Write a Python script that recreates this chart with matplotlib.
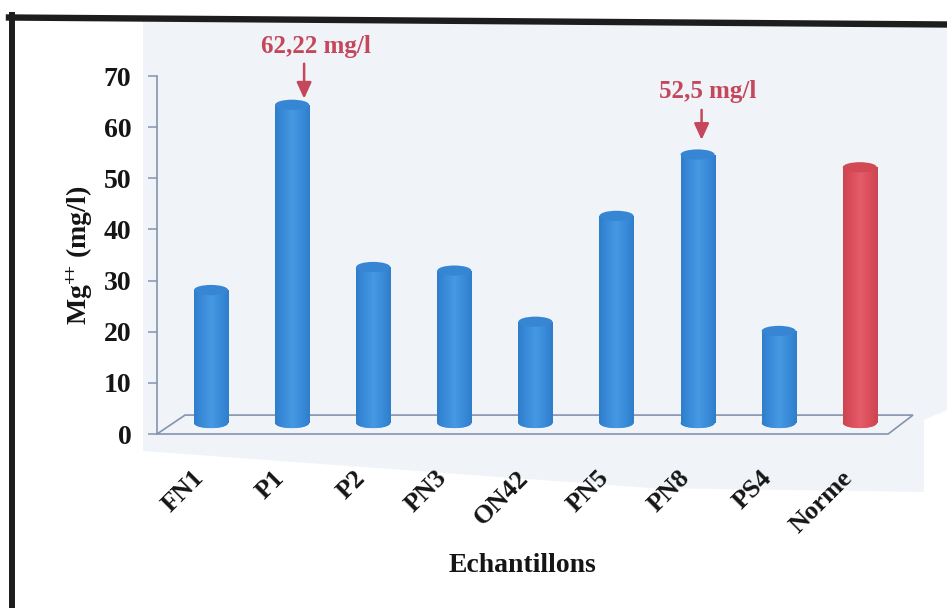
import numpy as np
import matplotlib
matplotlib.use("Agg")
import matplotlib.pyplot as plt
from matplotlib.patches import Ellipse, Polygon
from matplotlib.lines import Line2D
from matplotlib.transforms import ScaledTranslation
from matplotlib.colors import LinearSegmentedColormap

# ---- data -----------------------------------------------------------------
samples = ["FN1", "P1", "P2", "PN3", "ON42", "PN5", "PN8", "PS4", "Norme"]
mg_values = [26.0, 62.22, 30.5, 29.8, 19.8, 40.5, 52.5, 18.0, 50.0]
is_standard = [False, False, False, False, False, False, False, False, True]
y_ticks = [0, 10, 20, 30, 40, 50, 60, 70]
callout_samples = ["P1", "PN8"]
callout_texts = ["62,22 mg/l", "52,5 mg/l"]

# ---- style ----------------------------------------------------------------
plt.rcParams["font.family"] = ["Liberation Serif", "DejaVu Serif"]
plt.rcParams["font.weight"] = "bold"
plt.rcParams["mathtext.fontset"] = "custom"
plt.rcParams["mathtext.rm"] = "Liberation Serif:bold"
plt.rcParams["mathtext.bf"] = "Liberation Serif:bold"
plt.rcParams["mathtext.it"] = "Liberation Serif:bold:italic"

W, H = 947, 608
fig = plt.figure(figsize=(W / 100, H / 100), dpi=100)
fig.patch.set_facecolor("white")


def fx(px):
    return px / W


def fy(py):
    return 1 - py / H


# light chart panel behind the plot
panel_px = [(143, 21), (947, 28), (947, 410), (924, 420), (924, 492),
            (650, 488), (143, 451)]
fig.add_artist(Polygon([(fx(a), fy(b)) for a, b in panel_px], closed=True,
                       transform=fig.transFigure, facecolor="#f0f4f9",
                       edgecolor="none", zorder=-2))

# black frame (left and top edges)
frame_col = "#1d1d1d"
fig.add_artist(Line2D([fx(11.5), fx(11.5)], [fy(15), fy(608)], lw=4.3,
                      color=frame_col, transform=fig.transFigure, zorder=5))
fig.add_artist(Line2D([fx(9), fx(947)], [fy(17.5), fy(24.5)], lw=4.6,
                      color=frame_col, transform=fig.transFigure, zorder=5))

ax = fig.add_axes([fx(157), fy(434), fx(913) - fx(157), fy(76) - fy(434)])
ax.set_facecolor("none")

axis_col = "#8494ad"
x = np.arange(len(samples))
base = 2.15      # depth offset of the cylinders on the floor
cap_h = 2.0      # vertical size of the elliptical caps
bar_w = 0.42

blue = dict(dark="#2f7ecb", mid="#3a8cda", light="#4699e3", top="#3686d3")
red = dict(dark="#cc4552", mid="#dc4e5b", light="#e55d6a", top="#d34855")

# floor of the 3D plot
floor = Polygon([(-0.666, 0), (8.35, 0), (8.656, 3.7), (-0.32, 3.7)],
                closed=True, fill=False, edgecolor=axis_col, lw=1.2,
                clip_on=False, zorder=1)
ax.add_patch(floor)

body_cols = [red["mid"] if s else blue["mid"] for s in is_standard]
bars = ax.bar(x, mg_values, width=bar_w, bottom=base, color=body_cols,
              zorder=3, linewidth=0)

grad = np.linspace(0, 1, 64).reshape(1, -1)
for bar, std in zip(bars, is_standard):
    pal = red if std else blue
    cmap = LinearSegmentedColormap.from_list(
        "cyl", [pal["dark"], pal["mid"], pal["light"], pal["mid"], pal["dark"]])
    x0, y0 = bar.get_x(), bar.get_y()
    w, h = bar.get_width(), bar.get_height()
    xc = x0 + w / 2
    im = ax.imshow(grad, extent=(x0, x0 + w, y0, y0 + h), aspect="auto",
                   cmap=cmap, zorder=3.1, interpolation="bilinear")
    im.set_clip_path(bar)
    bottom_cap = Ellipse((xc, y0), w, cap_h, facecolor=pal["mid"],
                         edgecolor="none", zorder=2.9)
    ax.add_patch(bottom_cap)
    im2 = ax.imshow(grad, extent=(x0, x0 + w, y0 - cap_h / 2, y0),
                    aspect="auto", cmap=cmap, zorder=2.95,
                    interpolation="bilinear")
    im2.set_clip_path(bottom_cap)
    ax.add_patch(Ellipse((xc, y0 + h), w, cap_h, facecolor=pal["top"],
                         edgecolor="none", zorder=3.3))

# axes cosmetics
ax.set_xlim(-0.666, 8.656)
ax.set_ylim(0, 70)
for side in ("top", "right", "bottom"):
    ax.spines[side].set_visible(False)
ax.spines["left"].set_color(axis_col)
ax.spines["left"].set_linewidth(1.2)
ax.set_yticks(y_ticks)
ax.set_yticklabels([str(t) for t in y_ticks])
ax.tick_params(axis="y", direction="out", length=6.5, width=1.1,
               color=axis_col, pad=12, labelsize=20, labelcolor="#151515")

ax.set_xticks(x)
ax.set_xticklabels(samples, rotation=45, ha="right", va="center",
                   rotation_mode="anchor", fontsize=19, color="#151515")
ax.tick_params(axis="x", length=0, pad=29)
shift = ScaledTranslation(-11 / 100, 0, fig.dpi_scale_trans)
for lab in ax.get_xticklabels():
    lab.set_transform(lab.get_transform() + shift)

fig.text(fx(522), fy(566), "Echantillons", ha="center", va="center",
         fontsize=20, color="#151515")
fig.text(fx(80), fy(255), r"$\mathrm{Mg}^{{+}\!{+}}$ (mg/l)", rotation=90,
         ha="center", va="center", fontsize=20, color="#151515")

# callouts with arrows pointing at the bar tops
note_col = "#c4475b"
arrow_dx_pt = [12 * 0.72, 4 * 0.72]
arrow_gap_pt = [1 * 0.72, 9.5 * 0.72]
arrow_len_pt = [35 * 0.72, 30 * 0.72]
text_dx_pt = [24 * 0.72, 10 * 0.72]
text_dy_pt = [53 * 0.72, 58 * 0.72]
for k, (name, label) in enumerate(zip(callout_samples, callout_texts)):
    i = samples.index(name)
    top = base + mg_values[i] + cap_h / 2
    tip = ax.transData + ScaledTranslation(arrow_dx_pt[k] / 72,
                                           arrow_gap_pt[k] / 72,
                                           fig.dpi_scale_trans)
    ax.annotate("", xy=(x[i], top), xycoords=tip,
                xytext=(0, arrow_len_pt[k]), textcoords="offset points",
                arrowprops=dict(arrowstyle="-|>,head_length=0.7,head_width=0.32",
                                mutation_scale=14, color=note_col, lw=1.8,
                                shrinkA=0, shrinkB=0),
                annotation_clip=False)
    ax.annotate(label, xy=(x[i], top), xycoords="data",
                xytext=(text_dx_pt[k], text_dy_pt[k]),
                textcoords="offset points", ha="center", va="center",
                fontsize=18, color=note_col, annotation_clip=False)

fig.savefig("out.png", dpi=100, facecolor="white")
